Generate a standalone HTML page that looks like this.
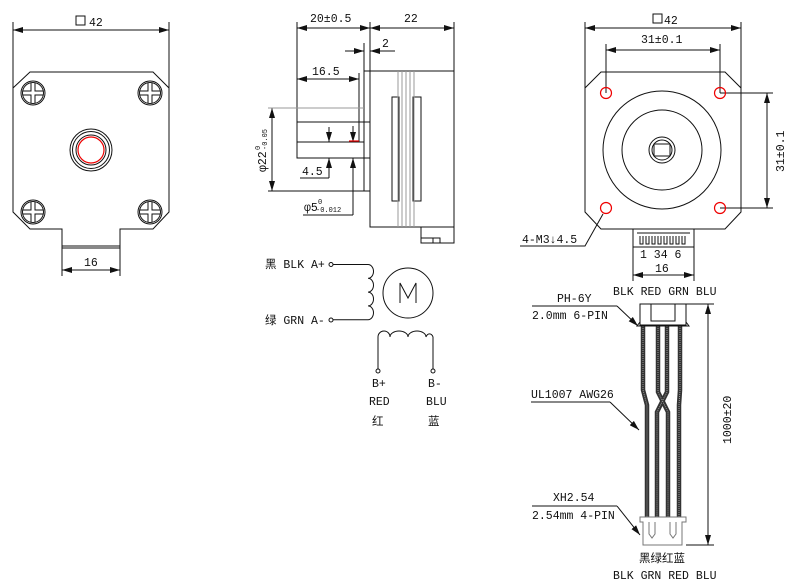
<!DOCTYPE html>
<html><head><meta charset="utf-8"><style>
html,body{margin:0;padding:0;background:#fff;}
svg{display:block;}
text{font-family:"Liberation Mono","Noto Sans CJK SC",monospace;font-size:11.5px;fill:#111;}
.s{fill:none;stroke:#111;stroke-width:1;}
.g{fill:none;stroke:#999;stroke-width:1;}
.r{fill:none;stroke:#e00;stroke-width:1.2;}
</style></head><body>
<svg width="786" height="583" viewBox="0 0 786 583" xmlns="http://www.w3.org/2000/svg">
<defs>
<marker id="a" viewBox="0 0 10 6" refX="10" refY="3" markerWidth="10" markerHeight="6" orient="auto-start-reverse" markerUnits="userSpaceOnUse"><path d="M0,0 L10,3 L0,6 z" fill="#111"/></marker>
<g id="h" fill="none" stroke="#111" stroke-width="1"><circle r="12"/><circle r="10.5"/><path d="M-2,-10 V-2 H-10 M2,-10 V-2 H10 M-2,10 V2 H-10 M2,10 V2 H10"/></g>
</defs>

<!-- LEFT VIEW -->
<g class="s">
<path d="M30,72 L153,72 L169,88 L169,212 L153,229 L120,229 L120,248 L62,248 L62,229 L30,229 L13,212 L13,88 Z"/>
<line x1="62" y1="246" x2="120" y2="246"/>
<line x1="13" y1="22" x2="13" y2="88"/><line x1="169" y1="22" x2="169" y2="88"/>
<line x1="13" y1="30" x2="169" y2="30" marker-start="url(#a)" marker-end="url(#a)"/>
<line x1="62" y1="248" x2="62" y2="276"/><line x1="120" y1="248" x2="120" y2="276"/>
<line x1="62" y1="270" x2="120" y2="270" marker-start="url(#a)" marker-end="url(#a)"/>
<circle cx="91" cy="150" r="21"/><circle cx="91" cy="150" r="18.5"/><circle cx="91" cy="150" r="15"/>
</g>
<circle cx="91" cy="150" r="13" class="r"/>
<use href="#h" x="33" y="93"/><use href="#h" x="150" y="93"/><use href="#h" x="33" y="212"/><use href="#h" x="150" y="212"/>
<rect x="76" y="16" width="9" height="9" class="s"/>
<text x="89" y="26">42</text>
<text x="84" y="266">16</text>

<!-- SIDE VIEW -->
<g class="s">
<rect x="370" y="71" width="84" height="156"/>
<path d="M364,71 V191 H370"/>
<line x1="364" y1="71" x2="370" y2="71"/>
<rect x="297" y="122" width="73" height="36"/>
<line x1="297" y1="142" x2="364" y2="142"/>
<rect x="392" y="97" width="7" height="104"/>
<rect x="413" y="97" width="8" height="104"/>
<path d="M421,227 V243 H454 V227"/>
<path d="M421,238 H440 V243 M433,243 V238"/>
<line x1="297" y1="22" x2="297" y2="122"/>
<line x1="370" y1="22" x2="370" y2="71"/>
<line x1="454" y1="22" x2="454" y2="71"/>
<line x1="297" y1="28" x2="370" y2="28" marker-start="url(#a)" marker-end="url(#a)"/>
<line x1="370" y1="28" x2="454" y2="28" marker-start="url(#a)" marker-end="url(#a)"/>
<line x1="364" y1="43" x2="364" y2="71"/>
<line x1="345" y1="51" x2="364" y2="51" marker-end="url(#a)"/>
<line x1="395" y1="51" x2="370" y2="51" marker-end="url(#a)"/>
<line x1="380" y1="51" x2="395" y2="51"/>
<line x1="359" y1="73" x2="359" y2="142"/>
<line x1="297" y1="79" x2="359" y2="79" marker-start="url(#a)" marker-end="url(#a)"/>
<line x1="272" y1="108" x2="272" y2="191" marker-start="url(#a)" marker-end="url(#a)"/>
<line x1="268" y1="191" x2="364" y2="191"/>
<line x1="329" y1="127" x2="329" y2="142" marker-end="url(#a)"/>
<line x1="329" y1="178" x2="329" y2="158" marker-end="url(#a)"/>
<line x1="300" y1="178" x2="329" y2="178"/>
<line x1="353" y1="126" x2="353" y2="142" marker-end="url(#a)"/>
<line x1="353" y1="215" x2="353" y2="158" marker-end="url(#a)"/>
<line x1="303" y1="215" x2="353" y2="215"/>
</g>
<g class="g">
<line x1="268" y1="108" x2="364" y2="108"/>
<line x1="398" y1="71" x2="398" y2="227"/><line x1="402" y1="71" x2="402" y2="227"/>
<line x1="406" y1="71" x2="406" y2="227"/><line x1="410" y1="71" x2="410" y2="227"/><line x1="414" y1="71" x2="414" y2="227"/>
</g>
<line x1="349" y1="141" x2="359" y2="141" stroke="#e00" stroke-width="1.2"/>
<text x="310" y="22">20±0.5</text>
<text x="404" y="22">22</text>
<text x="382" y="47">2</text>
<text x="312" y="75">16.5</text>
<text x="302" y="175">4.5</text>
<text x="304" y="211">φ5</text><text x="318" y="204" style="font-size:7px">0</text><text x="316" y="212" style="font-size:7px">-0.012</text>
<text transform="translate(266,172) rotate(-90)">φ22</text><text transform="translate(260,150) rotate(-90)" style="font-size:7px">0</text><text transform="translate(267,150) rotate(-90)" style="font-size:7px">-0.05</text>

<!-- SCHEMATIC -->
<g class="s">
<circle cx="331" cy="264.5" r="2"/><circle cx="331" cy="320" r="2"/>
<path d="M333,264.5 H368 a5.5,6.9 0 0 1 0,13.8 a5.5,6.9 0 0 1 0,13.8 a5.5,6.9 0 0 1 0,13.8 a5.5,6.9 0 0 1 0,13.8 H333"/>
<circle cx="408" cy="293" r="25"/>
<path d="M400,303 V283 L408,298 L416,283 V303"/>
<path d="M378,369 V337 a6,6 0 0 1 12,0 a9,6 0 0 1 18,0 a9,6 0 0 1 18,0 a4,6 0 0 1 7,0 V369"/>
<circle cx="378" cy="371" r="2"/><circle cx="433" cy="371" r="2"/>
</g>
<text x="265" y="268">黑 BLK A+</text>
<text x="265" y="324">绿 GRN A-</text>
<text x="372" y="387">B+</text><text x="428" y="387">B-</text>
<text x="369" y="405">RED</text><text x="426" y="405">BLU</text>
<text x="372" y="425" fill="#555">红</text><text x="428" y="425" fill="#555">蓝</text>

<!-- RIGHT VIEW -->
<g class="s">
<path d="M601,72 L725,72 L741,88 L741,212 L725,229 L601,229 L585,212 L585,88 Z"/>
<circle cx="662" cy="150" r="59"/><circle cx="662" cy="150" r="40"/>
<circle cx="662" cy="150" r="13"/><circle cx="662" cy="150" r="10"/>
<path d="M654,144 H670 V156 H654 Z" />
<line x1="585" y1="22" x2="585" y2="88"/><line x1="741" y1="22" x2="741" y2="88"/>
<line x1="585" y1="28" x2="741" y2="28" marker-start="url(#a)" marker-end="url(#a)"/>
<line x1="606" y1="44" x2="606" y2="93"/><line x1="720" y1="44" x2="720" y2="93"/>
<line x1="606" y1="50" x2="720" y2="50" marker-start="url(#a)" marker-end="url(#a)"/>
<line x1="720" y1="93" x2="773" y2="93"/><line x1="720" y1="208" x2="773" y2="208"/>
<line x1="767" y1="93" x2="767" y2="208" marker-start="url(#a)" marker-end="url(#a)"/>
<path d="M520,246 H585 L603,214"/>
<rect x="633" y="229" width="61" height="18"/>
<path d="M637,233 H690 M640,236 v8 h3 v-8 M646,236 v8 h3 v-8 M652,236 v8 h3 v-8 M658,236 v8 h3 v-8 M664,236 v8 h3 v-8 M670,236 v8 h3 v-8 M676,236 v8 h3 v-8 M682,236 v8 h3 v-8"/>
<line x1="633" y1="247" x2="633" y2="281"/><line x1="694" y1="247" x2="694" y2="281"/>
<line x1="633" y1="275" x2="694" y2="275" marker-start="url(#a)" marker-end="url(#a)"/>
</g>
<g class="r"><circle cx="606" cy="93" r="5.5"/><circle cx="720" cy="93" r="5.5"/><circle cx="606" cy="208" r="5.5"/><circle cx="720" cy="208" r="5.5"/></g>
<rect x="653" y="14" width="9" height="9" class="s"/>
<text x="664" y="24">42</text>
<text x="641" y="43">31±0.1</text>
<text transform="translate(784,172) rotate(-90)">31±0.1</text>
<text x="522" y="243">4-M3↓4.5</text>
<text x="640" y="258">1 34 6</text>
<text x="655" y="272">16</text>
<text x="613" y="295">BLK RED GRN BLU</text>

<!-- CABLE -->
<g class="s">
<line x1="532" y1="306" x2="617" y2="306"/><line x1="617" y1="306" x2="638" y2="326" marker-end="url(#a)"/>
<line x1="531" y1="402" x2="610" y2="402"/><line x1="610" y1="402" x2="639" y2="430" marker-end="url(#a)"/>
<line x1="532" y1="506" x2="617" y2="506"/><line x1="617" y1="506" x2="640" y2="535" marker-end="url(#a)"/>
<line x1="686" y1="304" x2="714" y2="304"/><line x1="686" y1="545" x2="714" y2="545"/>
<line x1="708" y1="304" x2="708" y2="545" marker-start="url(#a)" marker-end="url(#a)"/>
</g>
<g fill="none" stroke="#333" stroke-width="4.5">
<path d="M643,326 L643,390 L647,405 L647,517"/>
<path d="M658,326 L658,392 L668,412 L668,517"/>
<path d="M667,326 L667,392 L657,412 L657,517"/>
<path d="M680,326 L680,390 L679,405 L679,517"/>
</g>
<g fill="none" stroke="#999" stroke-width="1" stroke-dasharray="1 1">
<path d="M643,326 L643,390 L647,405 L647,517"/>
<path d="M658,326 L658,392 L668,412 L668,517"/>
<path d="M667,326 L667,392 L657,412 L657,517"/>
<path d="M680,326 L680,390 L679,405 L679,517"/>
</g>
<g class="s">
<rect x="640" y="304" width="46" height="21" fill="#fff"/>
<rect x="651" y="304" width="24" height="17"/>
<path d="M640,322 l-3,4 h52 l-3,-4"/>
</g>
<g fill="#fff" stroke="#777">
<path d="M640,517 H686 V522 H682 V545 H643 V522 H640 Z"/>
<path d="M649,522 v12 l3,4 l3,-4 v-12 M670,522 v12 l3,4 l3,-4 v-12" fill="none"/>
</g>
<text x="557" y="302">PH-6Y</text>
<text x="532" y="319">2.0mm 6-PIN</text>
<text x="531" y="398">UL1007 AWG26</text>
<text x="553" y="501">XH2.54</text>
<text x="532" y="519">2.54mm 4-PIN</text>
<text transform="translate(731,444) rotate(-90)">1000±20</text>
<text x="639" y="562">黑绿红蓝</text>
<text x="613" y="579">BLK GRN RED BLU</text>
</svg>
</body></html>
